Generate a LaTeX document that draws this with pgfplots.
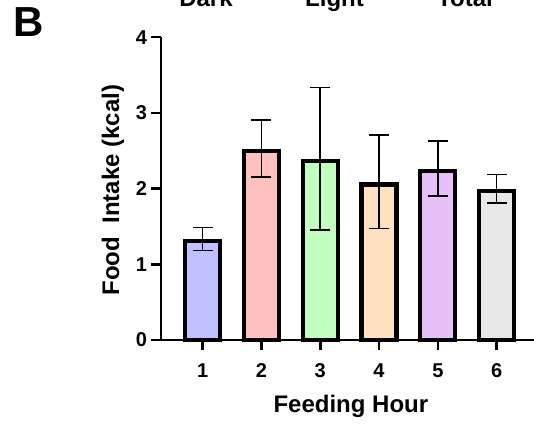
\documentclass[border=0pt]{standalone}
\usepackage{pgfplots}
\pgfplotsset{compat=1.18}
\usepackage{fontspec}
\setmainfont{Liberation Sans}
\definecolor{c1}{HTML}{C0C0FF}
\definecolor{c2}{HTML}{FFC0C0}
\definecolor{c3}{HTML}{C0FFC0}
\definecolor{c4}{HTML}{FFE0C0}
\definecolor{c5}{HTML}{E8C0F8}
\definecolor{c6}{HTML}{E8E8E8}
\newcommand{\tl}[1]{{\fontsize{20}{22}\selectfont\bfseries #1}}
\begin{document}
\begin{tikzpicture}
\useasboundingbox (0,0) rectangle (534pt,425pt);
\node[anchor=base west,font=\fontsize{42}{44}\selectfont\bfseries] at (10pt,388pt) {B};
\node[anchor=base,font=\fontsize{24}{26}\selectfont\bfseries] at (206pt,418pt) {Dark};
\node[anchor=base,font=\fontsize{24}{26}\selectfont\bfseries] at (334.5pt,418pt) {Light};
\node[anchor=base,font=\fontsize{24}{26}\selectfont\bfseries] at (465pt,418pt) {Total};
\begin{axis}[
  at={(161pt,85pt)}, anchor=south west,
  scale only axis, width=373pt, height=302.8pt,
  xmin=0.291, xmax=6.636, ymin=0, ymax=4,
  axis lines=left,
  axis line style={-, line width=2.6pt, black},
  xtick={1,2,3,4,5,6}, ytick={0,1,2,3,4},
  xticklabels={\tl{1},\tl{2},\tl{3},\tl{4},\tl{5},\tl{6}},
  yticklabels={\tl{0},\tl{1},\tl{2},\tl{3},\tl{4}},
  tick align=outside, major tick length=10pt,
  tick style={line width=2.6pt, black},
  xticklabel style={anchor=north, yshift=-10pt},
  yticklabel style={anchor=east, xshift=-0.5pt},
  xlabel={Feeding Hour}, ylabel={Food\ \ Intake (kcal)},
  label style={font=\fontsize{24}{26}\selectfont\bfseries},
  xlabel style={at={(axis description cs:0.509,-0.22)}, anchor=center},
  ylabel style={at={(axis description cs:-0.1287,0.495)}, anchor=center},
  ybar, bar width=35pt,
  every axis plot/.append style={bar shift=0pt, draw=black, line width=4.3pt,
    error bars/y dir=both, error bars/y explicit,
    error bars/error bar style={line width=1.6pt, black},
    error bars/error mark options={rotate=90, mark size=10pt, line width=1.6pt, black}},
  clip=false,
]
\addplot[fill=c1] coordinates {(1,1.31) += (0,0.174) -= (0,0.130)};
\addplot[fill=c2] coordinates {(2,2.50) += (0,0.406) -= (0,0.343)};
\addplot[fill=c3] coordinates {(3,2.36) += (0,0.973) -= (0,0.907)};
\addplot[fill=c4] coordinates {(4,2.054) += (0,0.654) -= (0,0.579)};
\addplot[fill=c5] coordinates {(5,2.237) += (0,0.392) -= (0,0.331)};
\addplot[fill=c6] coordinates {(6,1.972) += (0,0.212) -= (0,0.166)};
\end{axis}
\end{tikzpicture}
\end{document}
